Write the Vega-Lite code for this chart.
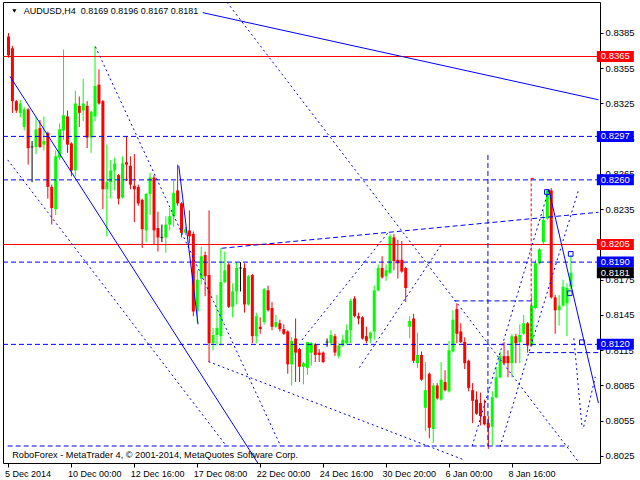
{
"$schema": "https://vega.github.io/schema/vega-lite/v6.json",
"width": 597, "height": 461,
"autosize": {"type": "none"},
"padding": {"left": 3, "top": 2, "right": 40, "bottom": 17},
"background": "#ffffff",
"config": {"view": {"stroke": "#000000", "strokeWidth": 1}, "font": "Liberation Sans", "axis": {"labelOverlap": false, "labelFlush": false, "labelBound": false}},
"datasets": {
"candles": [
{"i":0,"o":0.8382,"h":0.8385,"l":0.8364,"c":0.8366},
{"i":1,"o":0.8372,"h":0.8374,"l":0.8317,"c":0.8327},
{"i":2,"o":0.8327,"h":0.8328,"l":0.8317,"c":0.8319},
{"i":3,"o":0.8317,"h":0.8328,"l":0.8313,"c":0.8325},
{"i":4,"o":0.8305,"h":0.8322,"l":0.8302,"c":0.8320},
{"i":5,"o":0.8320,"h":0.8321,"l":0.8273,"c":0.8287},
{"i":6,"o":0.8288,"h":0.8293,"l":0.8258,"c":0.8288},
{"i":7,"o":0.8288,"h":0.8313,"l":0.8282,"c":0.8303},
{"i":8,"o":0.8304,"h":0.8311,"l":0.8287,"c":0.8288},
{"i":9,"o":0.8290,"h":0.8314,"l":0.8285,"c":0.8293},
{"i":10,"o":0.8300,"h":0.8301,"l":0.8244,"c":0.8254},
{"i":11,"o":0.8254,"h":0.8256,"l":0.8222,"c":0.8236},
{"i":12,"o":0.8235,"h":0.8285,"l":0.8230,"c":0.8280},
{"i":13,"o":0.8279,"h":0.8308,"l":0.8277,"c":0.8303},
{"i":14,"o":0.8302,"h":0.8371,"l":0.8294,"c":0.8315},
{"i":15,"o":0.8314,"h":0.8319,"l":0.8283,"c":0.8290},
{"i":16,"o":0.8291,"h":0.8292,"l":0.8263,"c":0.8268},
{"i":17,"o":0.8268,"h":0.8336,"l":0.8263,"c":0.8325},
{"i":18,"o":0.8323,"h":0.8331,"l":0.8305,"c":0.8317},
{"i":19,"o":0.8319,"h":0.8346,"l":0.8310,"c":0.8325},
{"i":20,"o":0.8323,"h":0.8327,"l":0.8287,"c":0.8296},
{"i":21,"o":0.8296,"h":0.8319,"l":0.8283,"c":0.8318},
{"i":22,"o":0.8314,"h":0.8374,"l":0.8310,"c":0.8340},
{"i":23,"o":0.8341,"h":0.8354,"l":0.8324,"c":0.8325},
{"i":24,"o":0.8327,"h":0.8328,"l":0.8235,"c":0.8252},
{"i":25,"o":0.8252,"h":0.8290,"l":0.8212,"c":0.8258},
{"i":26,"o":0.8258,"h":0.8277,"l":0.8244,"c":0.8268},
{"i":27,"o":0.8268,"h":0.8279,"l":0.8251,"c":0.8274},
{"i":28,"o":0.8264,"h":0.8265,"l":0.8239,"c":0.8244},
{"i":29,"o":0.8245,"h":0.8280,"l":0.8244,"c":0.8274},
{"i":30,"o":0.8275,"h":0.8297,"l":0.8259,"c":0.8273},
{"i":31,"o":0.8272,"h":0.8280,"l":0.8252,"c":0.8256},
{"i":32,"o":0.8255,"h":0.8282,"l":0.8224,"c":0.8252},
{"i":33,"o":0.8254,"h":0.8256,"l":0.8238,"c":0.8240},
{"i":34,"o":0.8243,"h":0.8244,"l":0.8202,"c":0.8218},
{"i":35,"o":0.8217,"h":0.8249,"l":0.8207,"c":0.8248},
{"i":36,"o":0.8248,"h":0.8266,"l":0.8230,"c":0.8262},
{"i":37,"o":0.8262,"h":0.8264,"l":0.8205,"c":0.8217},
{"i":38,"o":0.8219,"h":0.8233,"l":0.8199,"c":0.8211},
{"i":39,"o":0.8211,"h":0.8222,"l":0.8207,"c":0.8211},
{"i":40,"o":0.8211,"h":0.8229,"l":0.8198,"c":0.8222},
{"i":41,"o":0.8222,"h":0.8236,"l":0.8217,"c":0.8229},
{"i":42,"o":0.8229,"h":0.8259,"l":0.8220,"c":0.8249},
{"i":43,"o":0.8251,"h":0.8273,"l":0.8238,"c":0.8240},
{"i":44,"o":0.8240,"h":0.8241,"l":0.8211,"c":0.8215},
{"i":45,"o":0.8215,"h":0.8220,"l":0.8213,"c":0.8218},
{"i":46,"o":0.8217,"h":0.8234,"l":0.8206,"c":0.8212},
{"i":47,"o":0.8214,"h":0.8216,"l":0.8144,"c":0.8148},
{"i":48,"o":0.8148,"h":0.8183,"l":0.8138,"c":0.8175},
{"i":49,"o":0.8176,"h":0.8203,"l":0.8171,"c":0.8195},
{"i":50,"o":0.8196,"h":0.8199,"l":0.8161,"c":0.8178},
{"i":51,"o":0.8179,"h":0.8234,"l":0.8105,"c":0.8121},
{"i":52,"o":0.8121,"h":0.8134,"l":0.8115,"c":0.8128},
{"i":53,"o":0.8128,"h":0.8162,"l":0.8119,"c":0.8134},
{"i":54,"o":0.8127,"h":0.8202,"l":0.8119,"c":0.8173},
{"i":55,"o":0.8173,"h":0.8199,"l":0.8172,"c":0.8183},
{"i":56,"o":0.8188,"h":0.8189,"l":0.8151,"c":0.8152},
{"i":57,"o":0.8152,"h":0.8172,"l":0.8143,"c":0.8165},
{"i":58,"o":0.8165,"h":0.8190,"l":0.8154,"c":0.8185},
{"i":59,"o":0.8185,"h":0.8190,"l":0.8165,"c":0.8185},
{"i":60,"o":0.8185,"h":0.8189,"l":0.8147,"c":0.8154},
{"i":61,"o":0.8154,"h":0.8179,"l":0.8153,"c":0.8178},
{"i":62,"o":0.8179,"h":0.8180,"l":0.8121,"c":0.8127},
{"i":63,"o":0.8127,"h":0.8147,"l":0.8121,"c":0.8144},
{"i":64,"o":0.8135,"h":0.8143,"l":0.8129,"c":0.8133},
{"i":65,"o":0.8139,"h":0.8168,"l":0.8137,"c":0.8167},
{"i":66,"o":0.8166,"h":0.8170,"l":0.8148,"c":0.8149},
{"i":67,"o":0.8151,"h":0.8156,"l":0.8132,"c":0.8135},
{"i":68,"o":0.8135,"h":0.8145,"l":0.8134,"c":0.8139},
{"i":69,"o":0.8138,"h":0.8141,"l":0.8131,"c":0.8133},
{"i":70,"o":0.8133,"h":0.8137,"l":0.8128,"c":0.8129},
{"i":71,"o":0.8131,"h":0.8132,"l":0.8095,"c":0.8103},
{"i":72,"o":0.8103,"h":0.8126,"l":0.8085,"c":0.8123},
{"i":73,"o":0.8125,"h":0.8142,"l":0.8088,"c":0.8113},
{"i":74,"o":0.8116,"h":0.8117,"l":0.8088,"c":0.8101},
{"i":75,"o":0.8101,"h":0.8105,"l":0.8086,"c":0.8104},
{"i":76,"o":0.8100,"h":0.8122,"l":0.8094,"c":0.8122},
{"i":77,"o":0.8113,"h":0.8122,"l":0.8102,"c":0.8121},
{"i":78,"o":0.8120,"h":0.8121,"l":0.8105,"c":0.8111},
{"i":79,"o":0.8113,"h":0.8116,"l":0.8105,"c":0.8111},
{"i":80,"o":0.8113,"h":0.8114,"l":0.8104,"c":0.8105},
{"i":81,"o":0.8122,"h":0.8125,"l":0.8118,"c":0.8122},
{"i":82,"o":0.8121,"h":0.8132,"l":0.8119,"c":0.8128},
{"i":83,"o":0.8127,"h":0.8129,"l":0.8110,"c":0.8113},
{"i":84,"o":0.8110,"h":0.8121,"l":0.8108,"c":0.8119},
{"i":85,"o":0.8119,"h":0.8128,"l":0.8118,"c":0.8124},
{"i":86,"o":0.8121,"h":0.8137,"l":0.8120,"c":0.8132},
{"i":87,"o":0.8132,"h":0.8159,"l":0.8121,"c":0.8157},
{"i":88,"o":0.8159,"h":0.8161,"l":0.8143,"c":0.8144},
{"i":89,"o":0.8144,"h":0.8147,"l":0.8137,"c":0.8142},
{"i":90,"o":0.8143,"h":0.8144,"l":0.8124,"c":0.8125},
{"i":91,"o":0.8127,"h":0.8135,"l":0.8121,"c":0.8123},
{"i":92,"o":0.8125,"h":0.8131,"l":0.8121,"c":0.8130},
{"i":93,"o":0.8131,"h":0.8170,"l":0.8124,"c":0.8166},
{"i":94,"o":0.8166,"h":0.8188,"l":0.8165,"c":0.8185},
{"i":95,"o":0.8185,"h":0.8195,"l":0.8176,"c":0.8177},
{"i":96,"o":0.8178,"h":0.8188,"l":0.8174,"c":0.8183},
{"i":97,"o":0.8181,"h":0.8214,"l":0.8180,"c":0.8212},
{"i":98,"o":0.8211,"h":0.8214,"l":0.8183,"c":0.8191},
{"i":99,"o":0.8192,"h":0.8209,"l":0.8176,"c":0.8189},
{"i":100,"o":0.8192,"h":0.8208,"l":0.8181,"c":0.8182},
{"i":101,"o":0.8185,"h":0.8186,"l":0.8156,"c":0.8168},
{"i":102,"o":0.8135,"h":0.8144,"l":0.8125,"c":0.8140},
{"i":103,"o":0.8142,"h":0.8146,"l":0.8104,"c":0.8106},
{"i":104,"o":0.8104,"h":0.8130,"l":0.8100,"c":0.8111},
{"i":105,"o":0.8111,"h":0.8114,"l":0.8089,"c":0.8090},
{"i":106,"o":0.8066,"h":0.8105,"l":0.8046,"c":0.8081},
{"i":107,"o":0.8095,"h":0.8096,"l":0.8040,"c":0.8049},
{"i":108,"o":0.8048,"h":0.8087,"l":0.8036,"c":0.8085},
{"i":109,"o":0.8085,"h":0.8087,"l":0.8073,"c":0.8074},
{"i":110,"o":0.8073,"h":0.8105,"l":0.8072,"c":0.8090},
{"i":111,"o":0.8088,"h":0.8098,"l":0.8080,"c":0.8081},
{"i":112,"o":0.8080,"h":0.8123,"l":0.8079,"c":0.8115},
{"i":113,"o":0.8114,"h":0.8149,"l":0.8113,"c":0.8141},
{"i":114,"o":0.8150,"h":0.8155,"l":0.8121,"c":0.8129},
{"i":115,"o":0.8131,"h":0.8138,"l":0.8121,"c":0.8122},
{"i":116,"o":0.8122,"h":0.8126,"l":0.8099,"c":0.8104},
{"i":117,"o":0.8106,"h":0.8107,"l":0.8080,"c":0.8083},
{"i":118,"o":0.8081,"h":0.8087,"l":0.8053,"c":0.8072},
{"i":119,"o":0.8073,"h":0.8080,"l":0.8060,"c":0.8061},
{"i":120,"o":0.8070,"h":0.8079,"l":0.8051,"c":0.8059},
{"i":121,"o":0.8059,"h":0.8073,"l":0.8051,"c":0.8052},
{"i":122,"o":0.8053,"h":0.8059,"l":0.8031,"c":0.8049},
{"i":123,"o":0.8050,"h":0.8080,"l":0.8034,"c":0.8075},
{"i":124,"o":0.8075,"h":0.8101,"l":0.8074,"c":0.8092},
{"i":125,"o":0.8092,"h":0.8114,"l":0.8091,"c":0.8110},
{"i":126,"o":0.8110,"h":0.8122,"l":0.8103,"c":0.8104},
{"i":127,"o":0.8110,"h":0.8115,"l":0.8092,"c":0.8104},
{"i":128,"o":0.8104,"h":0.8129,"l":0.8092,"c":0.8127},
{"i":129,"o":0.8127,"h":0.8129,"l":0.8104,"c":0.8121},
{"i":130,"o":0.8122,"h":0.8137,"l":0.8104,"c":0.8128},
{"i":131,"o":0.8129,"h":0.8145,"l":0.8128,"c":0.8138},
{"i":132,"o":0.8138,"h":0.8139,"l":0.8113,"c":0.8119},
{"i":133,"o":0.8119,"h":0.8161,"l":0.8118,"c":0.8153},
{"i":134,"o":0.8151,"h":0.8192,"l":0.8150,"c":0.8189},
{"i":135,"o":0.8189,"h":0.8202,"l":0.8188,"c":0.8201},
{"i":136,"o":0.8207,"h":0.8234,"l":0.8205,"c":0.8226},
{"i":137,"o":0.8227,"h":0.8252,"l":0.8226,"c":0.8251},
{"i":138,"o":0.8251,"h":0.8253,"l":0.8159,"c":0.8160},
{"i":139,"o":0.8160,"h":0.8162,"l":0.8129,"c":0.8149},
{"i":140,"o":0.8149,"h":0.8162,"l":0.8136,"c":0.8153},
{"i":141,"o":0.8153,"h":0.8175,"l":0.8152,"c":0.8169},
{"i":142,"o":0.8155,"h":0.8172,"l":0.8127,"c":0.8168},
{"i":143,"o":0.8169,"h":0.8196,"l":0.8167,"c":0.8181}
],
"solid": [
{"x":49.4,"y":0.84023,"x2":150,"y2":0.83282},
{"x":0.4,"y":0.8348,"x2":63.4,"y2":0.8019},
{"x":43.3,"y":0.8272,"x2":48.2,"y2":0.8137},
{"x":137.4,"y":0.82514,"x2":150,"y2":0.8070}
],
"dotted": [
{"x":22.1,"y":0.83733,"x2":69.2,"y2":0.80335},
{"x":-0.2,"y":0.8277,"x2":55.4,"y2":0.80335},
{"x":50.85,"y":0.81053,"x2":115.9,"y2":0.80216},
{"x":54,"y":0.8418,"x2":144.9,"y2":0.80201},
{"x":74.6,"y":0.81237,"x2":96.7,"y2":0.82159},
{"x":89.2,"y":0.81002,"x2":110,"y2":0.82046},
{"x":117.9,"y":0.80335,"x2":137.4,"y2":0.82522},
{"x":125,"y":0.80329,"x2":145,"y2":0.8252},
{"x":143.75,"y":0.81252,"x2":145.85,"y2":0.80486},
{"x":146.25,"y":0.80499,"x2":149.2,"y2":0.80924}
],
"dashed": [
{"x":-0.2,"y":0.80335,"x2":142.5,"y2":0.80335},
{"x":54.2,"y":0.82018,"x2":150,"y2":0.82324},
{"x":121.9,"y":0.82812,"x2":121.9,"y2":0.80335},
{"x":113.4,"y":0.8157,"x2":133.4,"y2":0.8157},
{"x":132.4,"y":0.8113,"x2":150,"y2":0.8113}
],
"reddash": [
{"x":132.9,"y":0.82613,"x2":132.9,"y2":0.81178},
{"x":132.9,"y":0.82613,"x2":133.6,"y2":0.82613}
],
"marks": [
{"x":136.9,"y":0.82497},
{"x":142.95,"y":0.8197},
{"x":142.7,"y":0.81635},
{"x":145.8,"y":0.81218}
],
"tags": [
{"p":0.8365,"t":"0.8365","k":"res"},
{"p":0.8297,"t":"0.8297","k":"lvl"},
{"p":0.8260,"t":"0.8260","k":"lvl"},
{"p":0.8205,"t":"0.8205","k":"res"},
{"p":0.8190,"t":"0.8190","k":"lvl"},
{"p":0.8181,"t":"0.8181","k":"bid"},
{"p":0.8120,"t":"0.8120","k":"lvl"}
]
},
"layer": [
{
"data": {"name": "candles"},
"mark": {"type": "rule", "strokeWidth": 1, "clip": true},
"encoding": {
"x": {"field": "i", "type": "quantitative", "scale": {"domain": [-0.125, 149.125], "nice": false, "zero": false},
"axis": {"values": [0,16,32,48,64,80,96,112,128], "labelExpr": "datum.value==0?'5 Dec 2014':datum.value==16?'10 Dec 00:00':datum.value==32?'12 Dec 16:00':datum.value==48?'17 Dec 08:00':datum.value==64?'22 Dec 00:00':datum.value==80?'24 Dec 16:00':datum.value==96?'30 Dec 20:00':datum.value==112?'6 Jan 00:00':'8 Jan 16:00'", "labelAlign": "left", "labelBaseline": "top", "labelPadding": 2, "labelOffset": -4, "tickSize": 4, "tickColor": "#000000", "domain": false, "grid": false, "title": null, "labelFont": "Liberation Sans", "labelFontSize": 9, "labelColor": "#000000", "labelOverlap": false, "labelFlush": false, "labelBound": false}},
"y": {"field": "l", "type": "quantitative", "scale": {"domain": [0.801904, 0.841138], "nice": false, "zero": false},
"axis": {"orient": "right", "values": [0.8025,0.8055,0.8085,0.8115,0.8145,0.8175,0.8235,0.8265,0.8295,0.8325,0.8355,0.8385], "format": ".4f", "tickSize": 3, "tickColor": "#000000", "labelPadding": 2, "domain": false, "grid": false, "title": null, "labelFont": "Liberation Sans", "labelFontSize": 9.5, "labelColor": "#000000", "labelOverlap": false, "labelFlush": false, "labelBound": false}},
"y2": {"field": "h"},
"color": {"condition": [{"test": "datum.c > datum.o", "value": "#00ff00"}, {"test": "datum.c < datum.o", "value": "#ff0000"}], "value": "#000000"}
}
},
{
"data": {"name": "candles"},
"mark": {"type": "bar", "size": 3, "clip": true},
"encoding": {
"x": {"field": "i", "type": "quantitative", "scale": {"domain": [-0.125, 149.125], "nice": false, "zero": false}, "axis": {"title": null, "labelOverlap": false}},
"y": {"field": "o", "type": "quantitative", "scale": {"domain": [0.801904, 0.841138], "nice": false, "zero": false}, "axis": {"title": null, "labelOverlap": false}},
"y2": {"field": "c"},
"color": {"condition": [{"test": "datum.c > datum.o", "value": "#00ff00"}, {"test": "datum.c < datum.o", "value": "#ff0000"}], "value": "#000000"}
}
},
{
"data": {"name": "candles"},
"transform": [{"filter": "datum.o == datum.c"}],
"mark": {"type": "tick", "orient": "horizontal", "size": 3, "thickness": 1, "color": "#000000", "clip": true},
"encoding": {
"x": {"field": "i", "type": "quantitative", "scale": {"domain": [-0.125, 149.125], "nice": false, "zero": false}, "axis": {"title": null, "labelOverlap": false}},
"y": {"field": "c", "type": "quantitative", "scale": {"domain": [0.801904, 0.841138], "nice": false, "zero": false}, "axis": {"title": null, "labelOverlap": false}}
}
},
{
"data": {"values": [{"p": 0.8365}, {"p": 0.8205}]},
"mark": {"type": "rule", "color": "#ff0000", "strokeWidth": 1},
"encoding": {
"y": {"field": "p", "type": "quantitative", "scale": {"domain": [0.801904, 0.841138], "nice": false, "zero": false}, "axis": {"title": null, "labelOverlap": false}}
}
},
{
"data": {"values": [{"p": 0.8297}, {"p": 0.8260}, {"p": 0.8190}, {"p": 0.8120}]},
"mark": {"type": "rule", "color": "#0000ff", "strokeWidth": 1, "strokeDash": [5, 3]},
"encoding": {
"y": {"field": "p", "type": "quantitative", "scale": {"domain": [0.801904, 0.841138], "nice": false, "zero": false}, "axis": {"title": null, "labelOverlap": false}}
}
},
{
"data": {"name": "dashed"},
"mark": {"type": "rule", "color": "#0000ff", "strokeWidth": 1, "strokeDash": [5, 3], "clip": true},
"encoding": {
"x": {"field": "x", "type": "quantitative", "scale": {"domain": [-0.125, 149.125], "nice": false, "zero": false}, "axis": {"title": null, "labelOverlap": false}},
"x2": {"field": "x2"},
"y": {"field": "y", "type": "quantitative", "scale": {"domain": [0.801904, 0.841138], "nice": false, "zero": false}, "axis": {"title": null, "labelOverlap": false}},
"y2": {"field": "y2"}
}
},
{
"data": {"name": "dotted"},
"mark": {"type": "rule", "color": "#0000ff", "strokeWidth": 1, "strokeDash": [2, 3], "clip": true},
"encoding": {
"x": {"field": "x", "type": "quantitative", "scale": {"domain": [-0.125, 149.125], "nice": false, "zero": false}, "axis": {"title": null, "labelOverlap": false}},
"x2": {"field": "x2"},
"y": {"field": "y", "type": "quantitative", "scale": {"domain": [0.801904, 0.841138], "nice": false, "zero": false}, "axis": {"title": null, "labelOverlap": false}},
"y2": {"field": "y2"}
}
},
{
"data": {"name": "solid"},
"mark": {"type": "rule", "color": "#0000ff", "strokeWidth": 1, "clip": true},
"encoding": {
"x": {"field": "x", "type": "quantitative", "scale": {"domain": [-0.125, 149.125], "nice": false, "zero": false}, "axis": {"title": null, "labelOverlap": false}},
"x2": {"field": "x2"},
"y": {"field": "y", "type": "quantitative", "scale": {"domain": [0.801904, 0.841138], "nice": false, "zero": false}, "axis": {"title": null, "labelOverlap": false}},
"y2": {"field": "y2"}
}
},
{
"data": {"name": "reddash"},
"mark": {"type": "rule", "color": "#ff0000", "strokeWidth": 1, "strokeDash": [3, 2], "clip": true},
"encoding": {
"x": {"field": "x", "type": "quantitative", "scale": {"domain": [-0.125, 149.125], "nice": false, "zero": false}, "axis": {"title": null, "labelOverlap": false}},
"x2": {"field": "x2"},
"y": {"field": "y", "type": "quantitative", "scale": {"domain": [0.801904, 0.841138], "nice": false, "zero": false}, "axis": {"title": null, "labelOverlap": false}},
"y2": {"field": "y2"}
}
},
{
"data": {"name": "marks"},
"mark": {"type": "point", "shape": "square", "filled": false, "size": 22, "color": "#0000ff", "strokeWidth": 1, "opacity": 1},
"encoding": {
"x": {"field": "x", "type": "quantitative", "scale": {"domain": [-0.125, 149.125], "nice": false, "zero": false}, "axis": {"title": null, "labelOverlap": false}},
"y": {"field": "y", "type": "quantitative", "scale": {"domain": [0.801904, 0.841138], "nice": false, "zero": false}, "axis": {"title": null, "labelOverlap": false}}
}
},
{
"data": {"name": "tags"},
"mark": {"type": "tick", "orient": "horizontal", "size": 37, "thickness": 11, "opacity": 1, "clip": false},
"encoding": {
"x": {"datum": 154.3, "type": "quantitative", "scale": {"domain": [-0.125, 149.125], "nice": false, "zero": false}, "axis": {"title": null, "labelOverlap": false}},
"y": {"field": "p", "type": "quantitative", "scale": {"domain": [0.801904, 0.841138], "nice": false, "zero": false}, "axis": {"title": null, "labelOverlap": false}},
"color": {"field": "k", "type": "nominal", "scale": {"domain": ["res", "lvl", "bid"], "range": ["#ff0000", "#0000ff", "#000000"]}, "legend": null}
}
},
{
"data": {"name": "tags"},
"mark": {"type": "text", "color": "#ffffff", "font": "Liberation Sans", "fontSize": 9.5, "align": "center", "baseline": "middle", "clip": false},
"encoding": {
"x": {"datum": 154.3, "type": "quantitative", "scale": {"domain": [-0.125, 149.125], "nice": false, "zero": false}, "axis": {"title": null, "labelOverlap": false}},
"y": {"field": "p", "type": "quantitative", "scale": {"domain": [0.801904, 0.841138], "nice": false, "zero": false}, "axis": {"title": null, "labelOverlap": false}},
"text": {"field": "t"}
}
},
{
"data": {"values": [{"s": "v"}]},
"mark": {"type": "point", "shape": "triangle-down", "filled": true, "size": 18, "color": "#000000", "opacity": 1},
"encoding": {
"x": {"datum": 1.5, "type": "quantitative", "scale": {"domain": [-0.125, 149.125], "nice": false, "zero": false}, "axis": {"title": null, "labelOverlap": false}},
"y": {"datum": 0.84037, "type": "quantitative", "scale": {"domain": [0.801904, 0.841138], "nice": false, "zero": false}, "axis": {"title": null, "labelOverlap": false}}
}
},
{
"data": {"values": [{"t": "AUDUSD,H4\u00a0\u00a00.8169 0.8196 0.8167 0.8181"}]},
"mark": {"type": "text", "color": "#000000", "font": "Liberation Sans", "fontSize": 9, "align": "left", "baseline": "middle"},
"encoding": {
"x": {"datum": 3.875, "type": "quantitative", "scale": {"domain": [-0.125, 149.125], "nice": false, "zero": false}, "axis": {"title": null, "labelOverlap": false}},
"y": {"datum": 0.84041, "type": "quantitative", "scale": {"domain": [0.801904, 0.841138], "nice": false, "zero": false}, "axis": {"title": null, "labelOverlap": false}},
"text": {"field": "t"}
}
},
{
"data": {"values": [{"t": "RoboForex - MetaTrader 4, © 2001-2014, MetaQuotes Software Corp."}]},
"mark": {"type": "text", "color": "#000000", "font": "Liberation Sans", "fontSize": 9.2, "align": "left", "baseline": "middle"},
"encoding": {
"x": {"datum": 0.95, "type": "quantitative", "scale": {"domain": [-0.125, 149.125], "nice": false, "zero": false}, "axis": {"title": null, "labelOverlap": false}},
"y": {"datum": 0.80259, "type": "quantitative", "scale": {"domain": [0.801904, 0.841138], "nice": false, "zero": false}, "axis": {"title": null, "labelOverlap": false}},
"text": {"field": "t"}
}
}
]
}
